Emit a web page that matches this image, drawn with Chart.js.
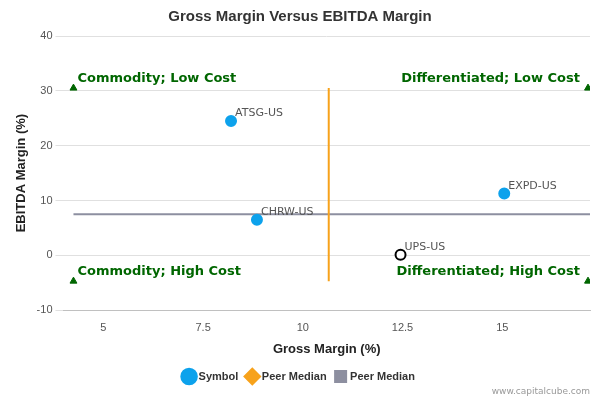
<!DOCTYPE html>
<html>
<head>
<meta charset="utf-8">
<script src="https://cdn.jsdelivr.net/npm/chart.js@4"></script>
<style>
  body { margin: 0; background: #fff; font-family: "DejaVu Sans", sans-serif; }
  #wrap { width: 600px; height: 400px; position: relative; }
</style>
</head>
<body>
<div id="wrap"><canvas id="chart"></canvas></div>
<script>
// company points
const symbols = ["ATSG-US", "CHRW-US", "EXPD-US", "UPS-US"];
const grossMargin = [8.2, 8.85, 15.05, 12.45];
const ebitdaMargin = [24.5, 6.5, 11.3, 0.1];

// peer medians
const medianGross = 10.65;
const medianEbitda = 7.5;

// quadrant corners
const cornerX = [4.25, 17.15];
const cornerY = [-4.7, 30.5];
const quadrantLabels = ["Commodity; Low Cost", "Differentiated; Low Cost", "Commodity; High Cost", "Differentiated; High Cost"];

const yTicks = [-10, 0, 10, 20, 30, 40];

const points = symbols.map((s, i) => ({ x: grossMargin[i], y: ebitdaMargin[i] }));
const corners = [
  { x: cornerX[0], y: cornerY[1] }, { x: cornerX[1], y: cornerY[1] },
  { x: cornerX[0], y: cornerY[0] }, { x: cornerX[1], y: cornerY[0] }
];

// labels next to points and quadrant captions
const textPlugin = {
  id: "texts",
  afterDatasetsDraw(chart) {
    const ctx = chart.ctx;
    const xs = chart.scales.x, ys = chart.scales.y;
    ctx.save();
    ctx.font = "11px 'DejaVu Sans'";
    ctx.fillStyle = "#555";
    ctx.textBaseline = "bottom";
    ctx.textAlign = "left";
    points.forEach((p, i) => {
      ctx.fillText(symbols[i], xs.getPixelForValue(p.x) + 4, ys.getPixelForValue(p.y) - 2);
    });
    ctx.font = "bold 13px 'DejaVu Sans'";
    ctx.fillStyle = "#006600";
    corners.forEach((c, i) => {
      const px = xs.getPixelForValue(c.x), py = ys.getPixelForValue(c.y);
      ctx.textAlign = i % 2 === 0 ? "left" : "right";
      ctx.fillText(quadrantLabels[i], px + (i % 2 === 0 ? 4 : -8), py - 3);
    });
    ctx.font = "9px 'DejaVu Sans'";
    ctx.fillStyle = "#999";
    ctx.textAlign = "right";
    ctx.fillText("www.capitalcube.com", 590, 396);
    ctx.restore();
  }
};

new Chart(document.getElementById("chart"), {
  type: "scatter",
  data: {
    datasets: [
      {
        label: "Symbol",
        data: points,
        backgroundColor: "#0da2ec",
        borderColor: ctx => ctx.dataIndex === 3 ? "#000" : "#0da2ec",
        pointBackgroundColor: points.map((p, i) => i === 3 ? "#fff" : "#0da2ec"),
        pointBorderColor: points.map((p, i) => i === 3 ? "#000" : "#0da2ec"),
        pointBorderWidth: 2,
        pointRadius: 5,
        order: 0
      },
      {
        label: "Peer Median",
        data: [{ x: medianGross, y: cornerY[0] }, { x: medianGross, y: cornerY[1] }],
        showLine: true,
        borderColor: "#f7a21b",
        backgroundColor: "#f7a21b",
        borderWidth: 2,
        pointRadius: 0,
        pointStyle: "rectRot",
        order: 2
      },
      {
        label: "Peer Median",
        data: [{ x: cornerX[0], y: medianEbitda }, { x: cornerX[1] + 0.05, y: medianEbitda }],
        showLine: true,
        borderColor: "#8d8fa0",
        backgroundColor: "#8d8fa0",
        borderWidth: 2,
        pointRadius: 0,
        pointStyle: "rect",
        order: 2
      },
      {
        label: "corners",
        data: corners,
        pointStyle: "triangle",
        pointRadius: 4,
        backgroundColor: "#006600",
        borderColor: "#006600",
        order: 1
      }
    ]
  },
  options: {
    responsive: true,
    maintainAspectRatio: false,
    animation: false,
    layout: { padding: { left: 10, right: 10, top: 0, bottom: 8 } },
    scales: {
      x: {
        min: 4.0,
        max: 17.2,
        afterBuildTicks: axis => { axis.ticks = [5, 7.5, 10, 12.5, 15].map(v => ({ value: v })); },
        grid: { display: false },
        border: { color: "#c0c0c0" },
        ticks: { color: "#555", font: { size: 11 } },
        title: { display: true, text: "Gross Margin (%)", color: "#222", font: { size: 13, weight: "bold" } }
      },
      y: {
        min: -10,
        max: 40,
        afterBuildTicks: axis => { axis.ticks = yTicks.map(v => ({ value: v })); },
        grid: { color: "#e0e0e0" },
        border: { display: false },
        ticks: { color: "#555", font: { size: 11 } },
        title: { display: true, text: "EBITDA Margin (%)", color: "#222", font: { size: 13, weight: "bold" } }
      }
    },
    plugins: {
      title: {
        display: true,
        text: "Gross Margin Versus EBITDA Margin",
        color: "#333",
        font: { size: 15, weight: "bold" },
        padding: { top: 8, bottom: 10 }
      },
      legend: {
        position: "bottom",
        labels: {
          usePointStyle: true,
          boxWidth: 8,
          color: "#333",
          font: { size: 11, weight: "bold" },
          filter: item => item.text !== "corners"
        }
      },
      tooltip: { enabled: false }
    }
  },
  plugins: [textPlugin]
});
</script>
</body>
</html>
